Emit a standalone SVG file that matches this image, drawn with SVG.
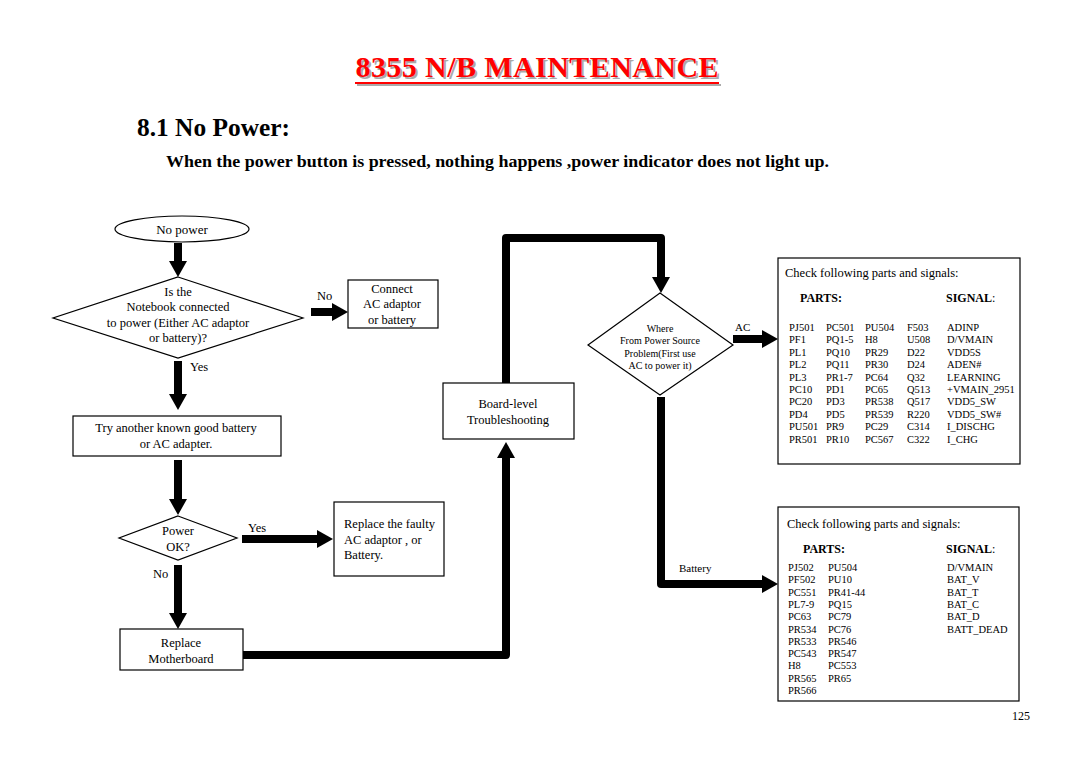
<svg xmlns="http://www.w3.org/2000/svg" width="1080" height="763" viewBox="0 0 1080 763">
<style>
text{font-family:"Liberation Serif","Times New Roman",serif;fill:#000}
.t{font-size:12.5px;text-anchor:middle}
.s{font-size:10px;text-anchor:middle}
.l{font-size:12.5px}
.tb{font-size:10.5px}
.h{font-size:12px;font-weight:bold}
.box{fill:#fff;stroke:#000;stroke-width:1.2}
.conn{fill:none;stroke:#000;stroke-width:8;stroke-linejoin:round;marker-end:url(#ah)}
</style>
<defs>
<marker id="ah" viewBox="0 0 16 18" markerWidth="16" markerHeight="18" refX="0" refY="9" orient="auto" markerUnits="userSpaceOnUse">
<path d="M0,0 L16,9 L0,18 z" fill="#000"/>
</marker>
</defs>
<rect width="1080" height="763" fill="#fff"/>
<g id="title">
<text x="539" y="79" text-anchor="middle" font-size="30" font-weight="bold" textLength="363" style="fill:#aaa">8355 N/B MAINTENANCE</text>
<line x1="357" y1="85" x2="721" y2="85" stroke="#aaa" stroke-width="2"/>
<text x="537" y="77" text-anchor="middle" font-size="30" font-weight="bold" textLength="363" style="fill:#f00">8355 N/B MAINTENANCE</text>
<line x1="355" y1="83" x2="719" y2="83" stroke="#f00" stroke-width="2"/>
<text x="137" y="136" font-size="25" font-weight="bold" textLength="153" lengthAdjust="spacingAndGlyphs">8.1 No Power:</text>
<text x="166" y="167" font-size="17" font-weight="bold" textLength="663" lengthAdjust="spacingAndGlyphs">When the power button is pressed, nothing happens ,power indicator does not light up.</text>
</g>
<g id="connectors">
<path class="conn" d="M178,243 V261"/>
<path class="conn" d="M311,312 H332"/>
<path class="conn" d="M178,361 V394"/>
<path class="conn" d="M178,460 V499"/>
<path class="conn" d="M242,539 H317"/>
<path class="conn" d="M178,565 V613"/>
<path class="conn" d="M243,655 H506 V458"/>
<path class="conn" d="M506,383 V238 H661 V277"/>
<path class="conn" d="M733,339 H762"/>
<path class="conn" d="M661,397 V584 H762"/>
<text class="l" x="317" y="300">No</text>
<text class="l" x="190" y="371">Yes</text>
<text class="l" x="248" y="532">Yes</text>
<text class="l" x="153" y="578">No</text>
<text class="l" x="735" y="331" style="font-size:11px">AC</text>
<text class="l" x="679" y="572" style="font-size:11px">Battery</text>
</g>
<g id="n-start">
<ellipse class="box" cx="182" cy="229" rx="67" ry="13"/>
<text class="t" x="182" y="234" style="font-size:13px">No power</text>
</g>
<g id="n-connected">
<polygon class="box" points="178,277 303,318 178,358 53,318"/>
<text class="t" x="178" y="296">Is the</text>
<text class="t" x="178" y="311">Notebook connected</text>
<text class="t" x="178" y="327">to power (Either AC adaptor</text>
<text class="t" x="178" y="342">or battery)?</text>
</g>
<g id="n-connect-ac">
<rect class="box" x="348" y="280" width="90" height="48"/>
<text class="t" x="392" y="293">Connect</text>
<text class="t" x="392" y="308">AC adaptor</text>
<text class="t" x="392" y="324">or battery</text>
</g>
<g id="n-try">
<rect class="box" x="73" y="416" width="208" height="40"/>
<text class="t" x="176" y="432">Try another known good battery</text>
<text class="t" x="176" y="448">or AC adapter.</text>
</g>
<g id="n-powerok">
<polygon class="box" points="178,516 237,538 178,560 119,538"/>
<text class="t" x="178" y="535">Power</text>
<text class="t" x="178" y="551">OK?</text>
</g>
<g id="n-replace-ac">
<rect class="box" x="334" y="502" width="110" height="74"/>
<text class="l" x="344" y="528">Replace the faulty</text>
<text class="l" x="344" y="544"> AC adaptor , or</text>
<text class="l" x="344" y="559">Battery.</text>
</g>
<g id="n-motherboard">
<rect class="box" x="120" y="629" width="123" height="41"/>
<text class="t" x="181" y="647">Replace</text>
<text class="t" x="181" y="663">Motherboard</text>
</g>
<g id="n-board">
<rect class="box" x="443" y="383" width="131" height="56"/>
<text class="t" x="508" y="408">Board-level</text>
<text class="t" x="508" y="424">Troubleshooting</text>
</g>
<g id="n-where">
<polygon class="box" points="660,293 733,345 660,395 588,345"/>
<text class="s" x="660" y="332">Where</text>
<text class="s" x="660" y="344">From Power Source</text>
<text class="s" x="660" y="357">Problem(First use</text>
<text class="s" x="660" y="369">AC to power it)</text>
</g>
<g id="n-ac-check">
<rect class="box" x="778" y="258" width="242" height="206"/>
<text class="l" x="785" y="277">Check following parts and signals:</text>
<text class="h" x="800" y="302">PARTS:</text>
<text class="h" x="946" y="302">SIGNAL<tspan font-weight="normal">:</tspan></text>
<text class="tb" y="331"><tspan x="789">PJ501</tspan><tspan x="826">PC501</tspan><tspan x="865">PU504</tspan><tspan x="907">F503</tspan><tspan x="947">ADINP</tspan></text>
<text class="tb" y="343.4"><tspan x="789">PF1</tspan><tspan x="826">PQ1-5</tspan><tspan x="865">H8</tspan><tspan x="907">U508</tspan><tspan x="947">D/VMAIN</tspan></text>
<text class="tb" y="355.8"><tspan x="789">PL1</tspan><tspan x="826">PQ10</tspan><tspan x="865">PR29</tspan><tspan x="907">D22</tspan><tspan x="947">VDD5S</tspan></text>
<text class="tb" y="368.2"><tspan x="789">PL2</tspan><tspan x="826">PQ11</tspan><tspan x="865">PR30</tspan><tspan x="907">D24</tspan><tspan x="947">ADEN#</tspan></text>
<text class="tb" y="380.6"><tspan x="789">PL3</tspan><tspan x="826">PR1-7</tspan><tspan x="865">PC64</tspan><tspan x="907">Q32</tspan><tspan x="947">LEARNING</tspan></text>
<text class="tb" y="393"><tspan x="789">PC10</tspan><tspan x="826">PD1</tspan><tspan x="865">PC65</tspan><tspan x="907">Q513</tspan><tspan x="947">+VMAIN_2951</tspan></text>
<text class="tb" y="405.4"><tspan x="789">PC20</tspan><tspan x="826">PD3</tspan><tspan x="865">PR538</tspan><tspan x="907">Q517</tspan><tspan x="947">VDD5_SW</tspan></text>
<text class="tb" y="417.8"><tspan x="789">PD4</tspan><tspan x="826">PD5</tspan><tspan x="865">PR539</tspan><tspan x="907">R220</tspan><tspan x="947">VDD5_SW#</tspan></text>
<text class="tb" y="430.2"><tspan x="789">PU501</tspan><tspan x="826">PR9</tspan><tspan x="865">PC29</tspan><tspan x="907">C314</tspan><tspan x="947">I_DISCHG</tspan></text>
<text class="tb" y="442.6"><tspan x="789">PR501</tspan><tspan x="826">PR10</tspan><tspan x="865">PC567</tspan><tspan x="907">C322</tspan><tspan x="947">I_CHG</tspan></text>
</g>
<g id="n-bat-check">
<rect class="box" x="778" y="507" width="241" height="194"/>
<text class="l" x="787" y="528">Check following parts and signals:</text>
<text class="h" x="803" y="553">PARTS:</text>
<text class="h" x="946" y="553">SIGNAL<tspan font-weight="normal">:</tspan></text>
<text class="tb" y="571"><tspan x="788">PJ502</tspan><tspan x="828">PU504</tspan><tspan x="947">D/VMAIN</tspan></text>
<text class="tb" y="583.3"><tspan x="788">PF502</tspan><tspan x="828">PU10</tspan><tspan x="947">BAT_V</tspan></text>
<text class="tb" y="595.6"><tspan x="788">PC551</tspan><tspan x="828">PR41-44</tspan><tspan x="947">BAT_T</tspan></text>
<text class="tb" y="607.9"><tspan x="788">PL7-9</tspan><tspan x="828">PQ15</tspan><tspan x="947">BAT_C</tspan></text>
<text class="tb" y="620.2"><tspan x="788">PC63</tspan><tspan x="828">PC79</tspan><tspan x="947">BAT_D</tspan></text>
<text class="tb" y="632.5"><tspan x="788">PR534</tspan><tspan x="828">PC76</tspan><tspan x="947">BATT_DEAD</tspan></text>
<text class="tb" y="644.8"><tspan x="788">PR533</tspan><tspan x="828">PR546</tspan></text>
<text class="tb" y="657.1"><tspan x="788">PC543</tspan><tspan x="828">PR547</tspan></text>
<text class="tb" y="669.4"><tspan x="788">H8</tspan><tspan x="828">PC553</tspan></text>
<text class="tb" y="681.7"><tspan x="788">PR565</tspan><tspan x="828">PR65</tspan></text>
<text class="tb" y="694"><tspan x="788">PR566</tspan></text>
</g>
<text x="1021" y="720" text-anchor="middle" font-size="12">125</text>
</svg>
